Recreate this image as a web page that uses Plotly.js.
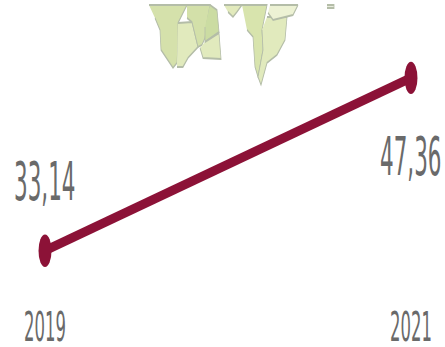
<!DOCTYPE html>
<html>
<head>
<meta charset="utf-8">
<script src="https://cdn.plot.ly/plotly-3.0.1.min.js"></script>
<style>
  html, body { margin: 0; padding: 0; background: #fff; overflow: hidden; width: 445px; height: 347px; }
  /* The chart is laid out short and stretched tall, which gives the narrow lettering and oval markers */
  #chart { width: 445px; height: 139px; transform: scaleY(2.4964); transform-origin: top left; }
  /* The map fragment is a soft, low-detail thumbnail */
  #chart .subplot.x2y2 .scatterlayer .trace { filter: blur(0.9px); }
</style>
</head>
<body>
<div id="chart"></div>
<script>
  // Indicator values by year
  const years = [2019, 2021];
  const values = [33.14, 47.36];
  const labelShifts = [27.5, -31.5];

  // Map fragment above the line, one outline per region (x, y in page units)
  const regionA = [[149,5],[187,5],[178,23],[178,43],[177,63],[173,68],[161,50],[160,30],[155,18]];
  const regionB = [[178,23],[192,22],[198,47],[188,58],[183,67],[177,67]];
  const regionC = [[187,5],[210,5],[207,22],[205,38],[202,45],[198,47],[192,22],[187,18]];
  const regionD = [[210,5],[217,10],[219,32],[205,42],[205,27]];
  const regionE = [[205,42],[219,33],[221,59],[203,58],[200,48]];
  const regionF = [[224,5],[242,5],[237,12],[233,17],[228,12]];
  const regionG = [[242,5],[267,5],[262,30],[263,50],[258,77],[255,67],[253,37],[247,30]];
  const regionH = [[267,17],[287,17],[285,40],[277,55],[267,63],[261,85],[258,77],[263,50],[262,30]];
  const regionI = [[270,5],[298,5],[293,15],[273,20],[268,13]];
  const regionJ = [[327,5],[334,5],[334,8],[327,8]];

  const regions = [
    [regionA, '#d5e1ab'], [regionB, '#e1eabd'], [regionC, '#d3e0a9'],
    [regionD, '#cbdca2'], [regionE, '#e1eabd'], [regionF, '#e2eabc'],
    [regionG, '#d8e4ad'], [regionH, '#e1eabd'], [regionI, '#edf2d4'],
    [regionJ, '#e8ecdc']
  ];

  const mapTraces = regions.map(([outline, colour]) => ({
    type: 'scatter', mode: 'lines', fill: 'toself', fillcolor: colour,
    x: outline.map(p => p[0]), y: outline.map(p => p[1]),
    line: { color: '#b4bda8', width: 0.8 },
    xaxis: 'x2', yaxis: 'y2', hoverinfo: 'skip', showlegend: false
  }));

  const lineTrace = {
    type: 'scatter', mode: 'lines+markers', x: years, y: values,
    line: { color: '#8c1237', width: 4 },
    marker: { color: '#8c1237', size: 13 },
    showlegend: false
  };

  const labels = years.map((year, i) => ({
    x: year, y: values[i], xref: 'x', yref: 'y',
    text: values[i].toFixed(2).replace('.', ','),
    showarrow: false, xanchor: 'center', yanchor: 'middle', yshift: labelShifts[i],
    font: { family: 'DejaVu Sans', size: 21.5, color: '#6a6a6a' }
  }));

  const layout = {
    width: 445, height: 139,
    margin: { l: 0, r: 0, t: 0, b: 20 },
    paper_bgcolor: '#ffffff', plot_bgcolor: '#ffffff',
    showlegend: false,
    xaxis: {
      range: [2018.754, 2021.186], tickvals: years, ticktext: years.map(String),
      showgrid: false, zeroline: false, showline: false, ticks: '',
      tickfont: { family: 'DejaVu Sans', size: 16.5, color: '#6a6a6a' }
    },
    yaxis: { range: [29.32, 53.77], visible: false, fixedrange: true },
    xaxis2: { range: [0, 445], overlaying: 'x', visible: false },
    yaxis2: { range: [297.5, 0], overlaying: 'y', visible: false },
    annotations: labels
  };

  Plotly.newPlot('chart', mapTraces.concat([lineTrace]), layout, { displayModeBar: false, staticPlot: true });
</script>
</body>
</html>
